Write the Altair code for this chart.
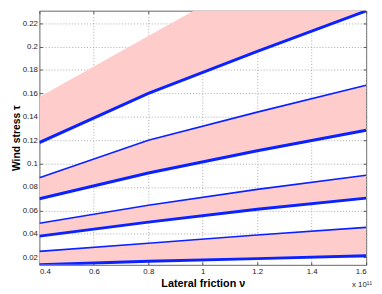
import altair as alt
import pandas as pd

# ---- data (nu in units of 1e11) ----
nu = [0.4, 0.8, 1.2, 1.6]
upper_edge = [0.157, 0.209, 0.261, 0.313]
thick1 = [0.118, 0.160, 0.196, 0.2305]
thin1 = [0.088, 0.120, 0.144, 0.167]
thick2 = [0.070, 0.092, 0.111, 0.1285]
thin2 = [0.049, 0.0645, 0.078, 0.090]
thick3 = [0.038, 0.050, 0.061, 0.0705]
thin3 = [0.025, 0.032, 0.039, 0.0455]
thick4 = [0.0135, 0.0165, 0.0188, 0.0213]

x_ticks = [0.4, 0.6, 0.8, 1.0, 1.2, 1.4, 1.6]
y_ticks = [0.02, 0.04, 0.06, 0.08, 0.1, 0.12, 0.14, 0.16, 0.18, 0.2, 0.22]
x_domain = [0.4, 1.6]
y_domain = [0.0135, 0.2307]

bands = [("b1", upper_edge, thick1), ("b2", thin1, thick2),
         ("b3", thin2, thick3), ("b4", thin3, thick4)]
lines = [("thick1", "thick", thick1), ("thin1", "thin", thin1),
         ("thick2", "thick", thick2), ("thin2", "thin", thin2),
         ("thick3", "thick", thick3), ("thin3", "thin", thin3),
         ("thick4", "thick", thick4)]

band_df = pd.DataFrame([
    {"band": b, "x": x, "hi": h, "lo": l}
    for b, hs, ls in bands for x, h, l in zip(nu, hs, ls)
])
line_df = pd.DataFrame([
    {"series": s, "kind": k, "x": x, "y": y}
    for s, k, ys in lines for x, y in zip(nu, ys)
])

FONT = "Liberation Sans"
W, H = 333, 259
xs = alt.Scale(domain=x_domain, nice=False, zero=False)
ys = alt.Scale(domain=y_domain, nice=False, zero=False)

main_x_axis = alt.Axis(
    values=x_ticks, format="~g", tickSize=3, offset=-3, domain=False,
    grid=True, gridDash=[1, 2], gridColor="#a8a8a8", gridWidth=1,
    tickColor="#555555", labelFont=FONT, labelFontSize=8, labelColor="#222222",
    labelPadding=3, title="Lateral friction ν", titleFont=FONT,
    titleFontSize=11, titleFontWeight="bold", titleColor="#000000",
    titlePadding=2,
)
main_y_axis = alt.Axis(
    values=y_ticks, format="~g", tickSize=3, offset=-3, domain=False,
    grid=True, gridDash=[1, 2], gridColor="#a8a8a8", gridWidth=1,
    tickColor="#555555", labelFont=FONT, labelFontSize=8, labelColor="#222222",
    labelPadding=2, title="Wind stress τ", titleFont=FONT,
    titleFontSize=10.5, titleFontWeight="bold", titleColor="#000000",
    titlePadding=1,
)

area = alt.Chart(band_df).mark_area(color="#ffcccc", clip=True).encode(
    x=alt.X("x:Q", scale=xs, axis=main_x_axis),
    y=alt.Y("hi:Q", scale=ys, axis=main_y_axis),
    y2="lo:Q",
    detail="band:N",
)

line = alt.Chart(line_df).mark_line(color="#0a22ff", clip=True).encode(
    x=alt.X("x:Q", scale=xs, axis=None),
    y=alt.Y("y:Q", scale=ys, axis=None),
    detail="series:N",
    strokeWidth=alt.StrokeWidth("kind:N", scale=alt.Scale(domain=["thick", "thin"], range=[3, 1.6]), legend=None),
)

ticks_tr = alt.Chart(line_df).mark_line(opacity=0).encode(
    x=alt.X("x:Q", scale=xs, axis=alt.Axis(
        orient="top", values=x_ticks, tickSize=3, offset=-3, labels=False,
        domain=False, grid=False, title=None, tickColor="#555555")),
    y=alt.Y("y:Q", scale=ys, axis=alt.Axis(
        orient="right", values=y_ticks, tickSize=3, offset=-3, labels=False,
        domain=False, grid=False, title=None, tickColor="#555555")),
    detail="series:N",
)

exp_df = pd.DataFrame({"x": [x_domain[1]], "t": ["x 10¹¹"]})
exp_text = alt.Chart(exp_df).mark_text(
    align="right", baseline="middle", font=FONT, fontSize=8, color="#222222", dx=6,
).encode(
    x=alt.X("x:Q", scale=xs, axis=None),
    y=alt.value(H + 21),
    text="t:N",
)

chart = alt.layer(area, line, ticks_tr, exp_text).resolve_axis(
    x="independent", y="independent"
).properties(
    width=W, height=H,
    autosize=alt.AutoSizeParams(type="none"),
    padding={"left": 32, "top": 0, "right": 8, "bottom": 27},
).configure_view(stroke="#666666", strokeWidth=1)

chart.save("out.html", embed_options={"renderer": "svg", "actions": False})
